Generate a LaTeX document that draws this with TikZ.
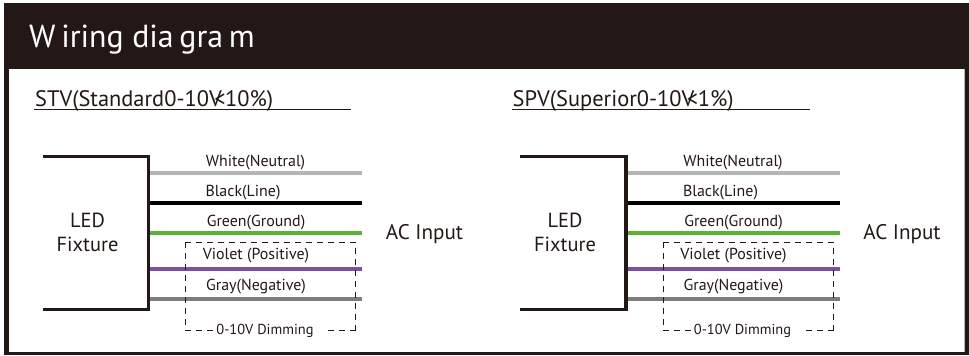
\documentclass[tikz,border=0pt]{standalone}
\usepackage{fontspec}
\setmainfont{PT Sans}
\definecolor{ink}{HTML}{231815}
\definecolor{wwhite}{HTML}{B5B5B6}
\definecolor{wgreen}{HTML}{5BB131}
\definecolor{wviolet}{HTML}{7F4F9F}
\definecolor{wgray}{HTML}{7D7D7D}
\newcommand{\lessV}{V\kern-0.33em<\kern-0.02em}
\tikzset{
  wire/.style={line width=3.7bp},
  boxline/.style={draw=ink,line width=3.5bp},
  lbl/.style={font=\fontsize{16}{18}\selectfont,text=ink,inner sep=0pt},
  big/.style={font=\fontsize{20.5}{24}\selectfont,text=ink,inner sep=0pt,align=center},
  head/.style={font=\fontsize{22.5}{26}\selectfont,text=ink,inner sep=0pt,anchor=base west},
  dim/.style={draw=ink,line width=0.7bp,dash pattern=on 6bp off 5bp},
}
\newcommand{\panel}[4]{%
 \begin{scope}[xshift=#2 bp]
 \coordinate (#1hl) at (34,109.7); \coordinate (#1hr) at (#4,109.7);
 \draw[draw=ink,line width=0.9bp] (#1hl) -- (#1hr);
 \node[head] (#1h) at (35,106.5) {#3};
 \coordinate (#1a) at (42.7,156.3); \coordinate (#1b) at (148.7,156.3);
 \coordinate (#1c) at (148.7,309.7); \coordinate (#1d) at (42.7,309.7);
 \draw[boxline,line join=miter] (#1a) -- (#1b) -- (#1c) -- (#1d);
 \node[big] (#1led) at (87.5,232) {LED\\Fixture};
 \foreach \n/\y/\c/\t/\tx/\ty in {w/172.7/wwhite/White(Neutral)/255.5/162.5,
    k/203.3/black/Black(Line)/243/193,
    g/233.3/wgreen/Green(Ground)/256/222.5,
    v/269/wviolet/Violet (Positive)/256/255.5,
    y/299/wgray/Gray(Negative)/256/286.5}{
   \coordinate (#1\n l) at (150,\y); \coordinate (#1\n r) at (362,\y);
   \draw[wire,draw=\c] (#1\n l) -- (#1\n r);
   \node[lbl] (#1\n t) at (\tx,\ty) {\t};
 }
 \coordinate (#1p) at (185.4,242); \coordinate (#1q) at (355.7,242);
 \coordinate (#1r) at (355.7,330.7); \coordinate (#1s) at (185.4,330.7);
 \draw[dim] (#1p) -- (#1q) -- (#1r);
 \draw[dim] (#1p) -- (#1s);
 \draw[dim] (#1s) -- (213,330.7);
 \draw[dim] (328,330.7) -- (#1r);
 \node[lbl,font=\fontsize{14.5}{16}\selectfont] (#1dt) at (265,331) {0-10V Dimming};
 \node[big,font=\fontsize{21.2}{24}\selectfont] (#1ac) at (424.5,234) {AC Input};
 \end{scope}}
\begin{document}
\begin{tikzpicture}[x=1bp,y=-1bp]
\useasboundingbox (0,0) rectangle (969,355);
\fill[white] (0,0) rectangle (969,355);
\fill[ink] (4,3.3) rectangle (969,355);
\fill[white] (8.5,69) rectangle (964.5,352);
\fill[wwhite] (964,69) rectangle (965,352);
\node[anchor=base west,inner sep=0pt,text=white,font=\fontsize{32}{36}\selectfont] (title) at (29,47.5)
  {W\hspace{5.7bp}iring dia\hspace{5.7bp}gra\hspace{5.7bp}m};
\panel{a}{0}{STV(Standard0-10\lessV10\%)}{350.7}
\panel{b}{477.5}{SPV(Superior0-10\lessV1\%)}{332}
\end{tikzpicture}
\end{document}
